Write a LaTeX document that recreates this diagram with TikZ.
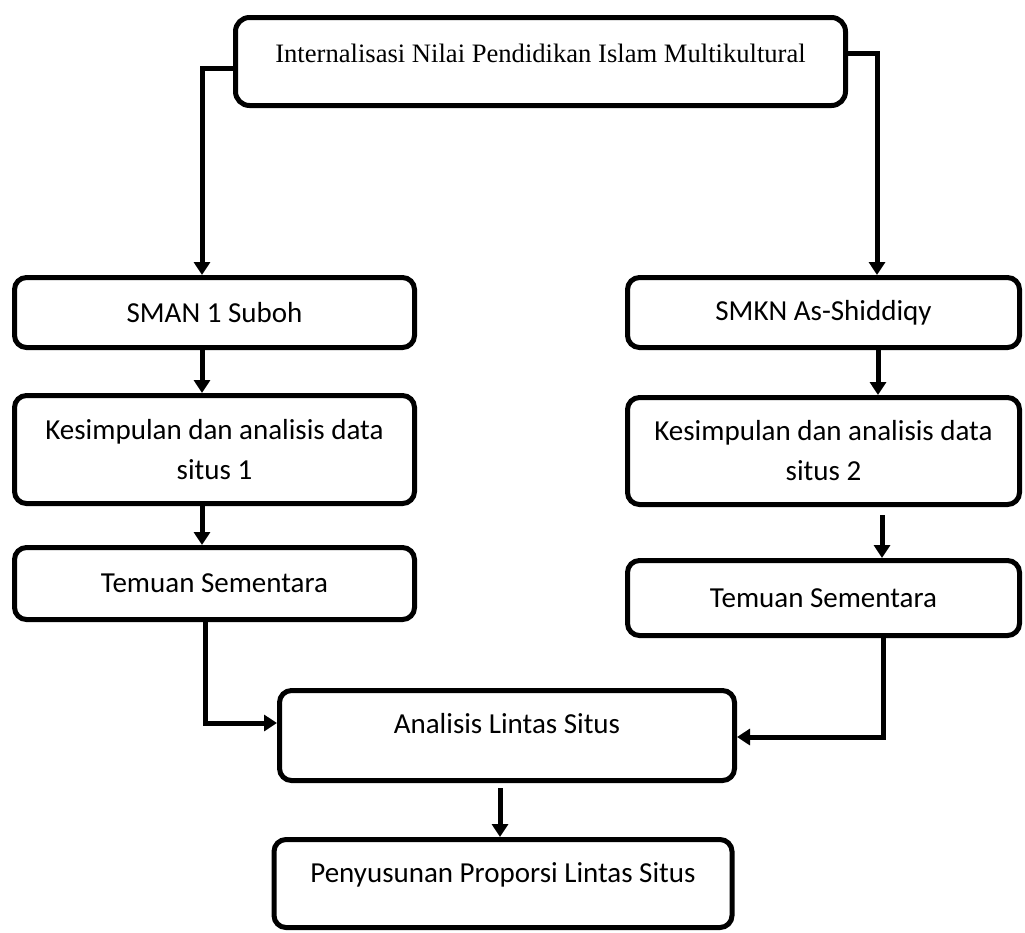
\documentclass[tikz,border=0pt]{standalone}
\usepackage{fontspec}
\setmainfont{Carlito}
\newfontfamily\serifrm{Liberation Serif}
\usetikzlibrary{arrows.meta,calc}
\begin{document}
\begin{tikzpicture}[x=1pt,y=1pt,
  box/.style={draw=black, line width=5pt, rounded corners=12pt, fill=white,
    inner sep=0pt, align=center, font=\fontsize{29}{40}\selectfont},
  lbl/.style={inner sep=0pt, font=\fontsize{29}{40}\selectfont},
  arr/.style={line width=5pt, -{Triangle[length=13pt,width=16pt]}}]
\useasboundingbox (0,0) rectangle (1025,-932);
% boxes
\node[box, rounded corners=14pt, minimum width=610pt, minimum height=88pt] (top) at (540.5,-61.5) {};
\node[font=\serifrm\fontsize{26.6}{32}\selectfont, inner sep=0pt] (toptext) at (540.5,-53) {Internalisasi Nilai Pendidikan Islam Multikultural};
\node[box, minimum width=400pt, minimum height=70pt] (sman) at (214.5,-312.5) {SMAN 1 Suboh};
\node[box, minimum width=400pt, minimum height=108pt] (kes1) at (214.5,-449.5) {Kesimpulan dan analisis data\\situs 1};
\node[box, minimum width=400pt, minimum height=72pt] (tem1) at (214.5,-583.5) {Temuan Sementara};
\node[box, minimum width=392pt, minimum height=70pt] (smkn) at (823.5,-312.5) {SMKN As-Shiddiqy};
\node[box, minimum width=392pt, minimum height=107pt] (kes2) at (823.5,-451) {Kesimpulan dan analisis data\\situs 2};
\node[box, minimum width=392pt, minimum height=75pt] (tem2) at (823.5,-598) {Temuan Sementara};
\node[box, minimum width=455pt, minimum height=90pt] (anal) at (507,-735.5) {};
\node[lbl] (analtext) at (507,-724) {Analisis Lintas Situs};
\node[box, minimum width=458pt, minimum height=88pt] (peny) at (503,-883.5) {};
\node[lbl] (penytext) at (503,-875) {Penyusunan Proporsi Lintas Situs};
% helper coordinates for connector columns
\coordinate (xl) at (202,0);
\coordinate (xl2) at (205,0);
\coordinate (xr) at (877,0);
\coordinate (xr1) at (878,0);
\coordinate (xr2) at (882,0);
\coordinate (xr3) at (883,0);
\coordinate (xm) at (500,0);
% connectors
\draw[arr] ($(top.west)+(0,-6.5)$) -| (sman.north -| xl);
\draw[arr] ($(top.east)+(0,8.5)$) -| (smkn.north -| xr);
\draw[arr] (sman.south -| xl) -- (kes1.north -| xl);
\draw[arr] (kes1.south -| xl) -- (tem1.north -| xl);
\draw[arr] (smkn.south -| xr1) -- (kes2.north -| xr1);
\draw[arr] ($(kes2.south -| xr2)+(0,-8)$) -- (tem2.north -| xr2);
\draw[arr] (tem1.south -| xl2) |- ($(anal.west)+(0,12.5)$);
\draw[arr] (tem2.south -| xr3) |- ($(anal.east)+(0,-1.5)$);
\draw[arr] ($(anal.south -| xm)+(0,-5)$) -- (peny.north -| xm);
\end{tikzpicture}
\end{document}
